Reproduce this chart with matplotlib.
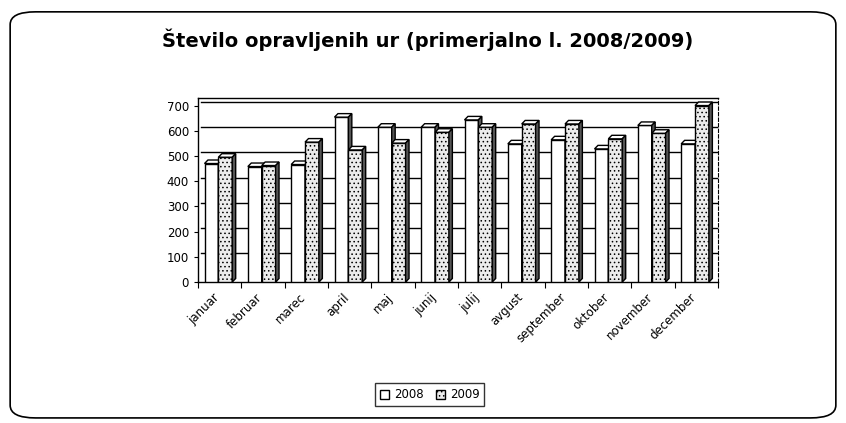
import numpy as np
import matplotlib.pyplot as plt
from matplotlib.patches import Polygon, FancyBboxPatch, Patch

months = ['januar', 'februar', 'marec', 'april', 'maj', 'junij', 'julij',
          'avgust', 'september', 'oktober', 'november', 'december']
hours_2008 = [470, 458, 466, 654, 614, 614, 643, 548, 564, 528, 621, 548]
hours_2009 = [495, 462, 555, 524, 551, 594, 614, 627, 627, 568, 590, 700]
series_labels = ['2008', '2009']
y_ticks = [0, 100, 200, 300, 400, 500, 600, 700]

plt.rcParams['hatch.color'] = '#888888'
plt.rcParams['hatch.linewidth'] = 0.6

fig = plt.figure(figsize=(8.46, 4.23), dpi=100)
fig.patch.set_facecolor('white')

# rounded frame around the whole chart
frame = FancyBboxPatch((0.012, 0.012), 0.976, 0.96, boxstyle='round,pad=0,rounding_size=0.03',
                       transform=fig.transFigure, facecolor='none', edgecolor='black',
                       lw=1.2, zorder=-1)
fig.patches.append(frame)

fig.text(0.505, 0.905, 'Število opravljenih ur (primerjalno l. 2008/2009)',
         ha='center', va='center', fontsize=14, fontweight='semibold')

ax = fig.add_axes([198 / 846, (423 - 282) / 423, 520 / 846, 184 / 423])
ax.set_facecolor('none')
ax.set_xlim(0, len(months))
ax.set_ylim(0, 730)

x = np.arange(len(months))
w = 0.32
dx, dy = 0.08, 14  # depth of the 3d effect, data units

# back wall gridlines (shifted like the 3d back wall)
for t in y_ticks[1:]:
    ax.plot([dx, len(months)], [t + dy, t + dy], color='black', lw=1.0, zorder=1)


def draw_bars(xs, vals, face, hatch):
    ax.bar(xs, vals, width=w, align='edge', facecolor=face, edgecolor='black',
           lw=1.0, hatch=hatch, zorder=3)
    for xi, v in zip(xs, vals):
        top = Polygon([(xi, v), (xi + dx, v + dy), (xi + w + dx, v + dy), (xi + w, v)],
                      closed=True, facecolor='white', edgecolor='black', lw=1.0, zorder=3)
        side = Polygon([(xi + w, 0), (xi + w + dx, dy), (xi + w + dx, v + dy), (xi + w, v)],
                       closed=True, facecolor='#555555', edgecolor='black', lw=1.0, zorder=3)
        ax.add_patch(top)
        ax.add_patch(side)


draw_bars(x + 0.15, hours_2008, 'white', None)
draw_bars(x + 0.15 + w, hours_2009, '#ececec', '....')

ax.set_yticks(y_ticks)
ax.set_yticklabels([str(t) for t in y_ticks], fontsize=8.5)
ax.set_xticks(np.arange(len(months) + 1))
ax.set_xticklabels([''] * (len(months) + 1))
ax.tick_params(axis='x', length=4, direction='out')
ax.tick_params(axis='y', length=3, direction='out')
for i, m in enumerate(months):
    ax.text(i + 0.55, -35, m, rotation=45, ha='right', va='top', fontsize=8.5)

for s in ['left', 'bottom', 'top']:
    ax.spines[s].set_linewidth(1.0)
ax.spines['right'].set_linestyle((0, (3, 2)))

# legend
handles = [Patch(facecolor='white', edgecolor='black'),
           Patch(facecolor='#ececec', edgecolor='black', hatch='....')]
fig.legend(handles, series_labels, loc='center', bbox_to_anchor=(0.508, 0.067), ncol=2,
           fontsize=8.5, frameon=True, fancybox=False, edgecolor='black',
           handlelength=0.8, handleheight=0.8, handletextpad=0.4, columnspacing=1.0,
           borderpad=0.4)

fig.savefig('out.png', dpi=100)
